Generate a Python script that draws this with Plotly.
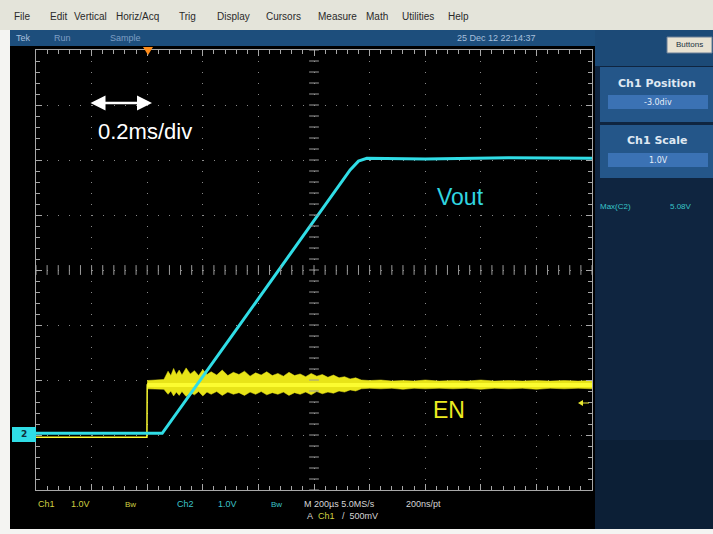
import plotly.graph_objects as go

W, H = 713, 534

# ---------------- data ----------------
# time in ms relative to the trigger point, volts (Ch2 1.0V/div, Ch1 1.0V/div)
vout_t = [-0.40, 0.054, 0.30, 0.55, 0.73, 0.76, 0.79, 1.00, 1.30, 1.60]
vout_v = [0.03, 0.03, 1.77, 3.53, 4.82, 4.98, 5.03, 5.02, 5.04, 5.03]

en_t = [-0.40, -0.001, 0.0, 1.60]
en_v = [-0.04, -0.04, 0.91, 0.91]

# noise envelope of EN (upper / lower edge of the yellow band)
en_band_t = [0.000, 0.030, 0.060, 0.075, 0.085, 0.095, 0.105, 0.115, 0.125, 0.140,
             0.155, 0.170, 0.185, 0.200, 0.215, 0.230, 0.250, 0.270, 0.290, 0.310,
             0.330, 0.350, 0.370, 0.390, 0.410, 0.430, 0.450, 0.470, 0.490, 0.510,
             0.530, 0.550, 0.570, 0.590, 0.610, 0.630, 0.650, 0.670, 0.690, 0.710,
             0.730, 0.750, 0.770, 0.800, 0.840, 0.880, 0.920, 0.960, 1.000, 1.050,
             1.100, 1.150, 1.200, 1.250, 1.300, 1.350, 1.400, 1.450, 1.500, 1.550, 1.600]
en_band_hi = [0.99, 1.00, 1.01, 1.16, 1.08, 1.21, 1.10, 1.18, 1.09, 1.22,
              1.11, 1.17, 1.08, 1.19, 1.10, 1.15, 1.09, 1.18, 1.08, 1.14,
              1.10, 1.16, 1.07, 1.13, 1.09, 1.15, 1.08, 1.12, 1.07, 1.14,
              1.08, 1.11, 1.06, 1.12, 1.07, 1.10, 1.05, 1.09, 1.04, 1.06,
              1.02, 1.04, 1.00, 0.99, 1.00, 0.98, 0.99, 0.98, 1.00, 0.98,
              0.99, 0.98, 1.00, 0.98, 0.99, 0.98, 0.99, 0.98, 0.99, 0.98, 0.99]
en_band_lo = [0.84, 0.83, 0.83, 0.74, 0.80, 0.71, 0.78, 0.72, 0.79, 0.70,
              0.77, 0.73, 0.79, 0.71, 0.78, 0.74, 0.79, 0.72, 0.78, 0.74,
              0.77, 0.72, 0.78, 0.74, 0.79, 0.73, 0.77, 0.74, 0.78, 0.72,
              0.77, 0.74, 0.78, 0.73, 0.79, 0.75, 0.78, 0.76, 0.80, 0.78,
              0.82, 0.80, 0.84, 0.85, 0.84, 0.85, 0.83, 0.85, 0.84, 0.85,
              0.84, 0.85, 0.83, 0.85, 0.84, 0.85, 0.83, 0.85, 0.84, 0.85, 0.84]

x_range = [-0.4, 1.6]   # 10 div x 0.2 ms
y_range = [-1.0, 7.0]   # 8 div x 1 V, ground at -3 div

menu_items = ["File", "Edit", "Vertical", "Horiz/Acq", "Trig", "Display",
              "Cursors", "Measure", "Math", "Utilities", "Help"]
menu_x = [22, 58, 90, 137, 187, 233, 283, 337, 377, 418, 459]

# ---------------- helpers ----------------
def px(x):
    return x / W

def py(y):
    return 1 - y / H

L, R, T, B = 36, 592, 50, 490

fig = go.Figure()

# EN noise band
fig.add_trace(go.Scatter(x=en_band_t, y=en_band_lo, mode="lines",
                         line=dict(width=0.5, color="#e8e418"), hoverinfo="skip",
                         showlegend=False))
fig.add_trace(go.Scatter(x=en_band_t, y=en_band_hi, mode="lines", fill="tonexty",
                         fillcolor="#e8e418", line=dict(width=0.5, color="#e8e418"),
                         hoverinfo="skip", showlegend=False))
# EN core
fig.add_trace(go.Scatter(x=en_t, y=en_v, mode="lines",
                         line=dict(width=1.5, color="#fcfc30"), showlegend=False))
fig.add_trace(go.Scatter(x=[en_t[2], en_t[3]], y=[en_v[2], en_v[3]], mode="lines",
                         line=dict(width=4, color="#fcfc30"), showlegend=False))
# Vout
fig.add_trace(go.Scatter(x=vout_t, y=vout_v, mode="lines",
                         line=dict(width=3, color="#30dde6"), showlegend=False))

# centre-cross minor ticks of the graticule
nx = 50
xm = [x_range[0] + i * (x_range[1] - x_range[0]) / nx for i in range(nx + 1)]
ny = 40
ym = [y_range[0] + i * (y_range[1] - y_range[0]) / ny for i in range(ny + 1)]
xc = (x_range[0] + x_range[1]) / 2
yc = (y_range[0] + y_range[1]) / 2
fig.add_trace(go.Scatter(x=xm, y=[yc] * len(xm), mode="markers",
                         marker=dict(symbol="line-ns", size=7,
                                     line=dict(width=1, color="#9a9a9a")),
                         hoverinfo="skip", showlegend=False))
fig.add_trace(go.Scatter(x=[xc] * len(ym), y=ym, mode="markers",
                         marker=dict(symbol="line-ew", size=7,
                                     line=dict(width=1, color="#9a9a9a")),
                         hoverinfo="skip", showlegend=False))

shapes = []
def rect(x0, y0, x1, y1, color, layer="below", line=None):
    shapes.append(dict(type="rect", xref="paper", yref="paper",
                       x0=px(x0), x1=px(x1), y0=py(y1), y1=py(y0),
                       fillcolor=color, line=line or dict(width=0), layer=layer))

rect(0, 0, W, H, "#f4f4f2")
rect(0, 0, W, 30, "#e4e4da")
rect(10, 30, W, 46, "#1d4e7c")
rect(10, 46, 595, 529, "#000000")
rect(595, 30, W, 529, "#0f2540")
rect(595, 30, W, 66, "#1c4a77")
rect(600, 67, W, 122, "#245689")
rect(608, 95, 708, 109, "#3b72b4")
rect(600, 125, W, 178, "#245689")
rect(608, 153, 708, 167, "#3b72b4")
rect(595, 440, W, 529, "#0c1f36")
shapes.append(dict(type="rect", xref="paper", yref="paper",
                   x0=px(667), x1=px(712), y0=py(53), y1=py(37),
                   fillcolor="#e8e2d2", line=dict(width=1, color="#6a7f96"),
                   layer="below"))
# ground marker of Ch2
rect(12, 427, 36, 442, "#30dde6", layer="above")
# trigger position marker
shapes.append(dict(type="path", xref="paper", yref="paper",
                   path="M {},{} L {},{} L {},{} Z".format(px(143), py(47), px(153), py(47), px(148), py(55)),
                   fillcolor="#ff8c1a", line=dict(width=0), layer="above"))
# trigger level marker
shapes.append(dict(type="path", xref="paper", yref="paper",
                   path="M {},{} L {},{} L {},{} Z".format(px(578), py(403), px(583), py(400), px(583), py(406)),
                   fillcolor="#e8e830", line=dict(width=0), layer="above"))
shapes.append(dict(type="line", xref="paper", yref="paper",
                   x0=px(583), x1=px(589), y0=py(403), y1=py(403),
                   line=dict(width=1, color="#e8e830"), layer="above"))

ann = []
def text(x, y, s, size=10, color="#222", xanchor="center", family="DejaVu Sans", bold=False):
    ann.append(dict(x=px(x), y=py(y), xref="paper", yref="paper",
                    text=("<b>%s</b>" % s) if bold else s, showarrow=False,
                    xanchor=xanchor, yanchor="middle",
                    font=dict(size=size, color=color, family=family)))

for m, x in zip(menu_items, menu_x):
    text(x, 17, m, size=10, color="#2a2a2a", family="Liberation Sans")

text(14, 38, "Tek", 9, "#a8c0dc", "left", "Liberation Sans")
text(52, 38, "Run", 9, "#7f9fc4", "left", "Liberation Sans")
text(108, 38, "Sample", 9, "#7f9fc4", "left", "Liberation Sans")
text(455, 38, "25 Dec 12 22:14:37", 9, "#a8c0dc", "left", "Liberation Sans")
text(689, 45, "Buttons", 8, "#203040", "center", "Liberation Sans")

text(657, 83, "Ch1 Position", 11, "#dfe8f2", "center", "DejaVu Sans", True)
text(658, 102, "-3.0div", 8, "#e6eef8", "center", "DejaVu Sans")
text(657, 140, "Ch1 Scale", 11, "#dfe8f2", "center", "DejaVu Sans", True)
text(658, 160, "1.0V", 8, "#e6eef8", "center", "DejaVu Sans")
text(598, 206, "Max(C2)", 8, "#38c4c8", "left", "Liberation Sans")
text(668, 206, "5.08V", 8, "#38c4c8", "left", "Liberation Sans")

# bottom readout
text(36, 504, "Ch1", 9, "#d0d040", "left", "Liberation Sans")
text(69, 504, "1.0V", 9, "#d0d040", "left", "Liberation Sans")
text(123, 504, "Bw", 8, "#d0d040", "left", "Liberation Sans")
text(175, 504, "Ch2", 9, "#3cc4c8", "left", "Liberation Sans")
text(216, 504, "1.0V", 9, "#3cc4c8", "left", "Liberation Sans")
text(269, 504, "Bw", 8, "#3cc4c8", "left", "Liberation Sans")
text(302, 504, "M 200µs 5.0MS/s", 9, "#d6d6d6", "left", "Liberation Sans")
text(404, 504, "200ns/pt", 9, "#d6d6d6", "left", "Liberation Sans")
text(305, 516, "A", 9, "#d6d6d6", "left", "Liberation Sans")
text(316, 516, "Ch1", 9, "#d0d040", "left", "Liberation Sans")
text(340, 516, "/  500mV", 9, "#d6d6d6", "left", "Liberation Sans")

text(24, 434, "2", 9, "#10303a", "center", "DejaVu Sans", True)

# overlay labels
text(145, 131, "0.2ms/div", 22, "#ffffff", "center", "Liberation Sans")
text(460, 197, "Vout", 23, "#30d6e0", "center", "Liberation Sans")
text(449, 410, "EN", 23, "#ecec20", "center", "Liberation Sans")

ann.append(dict(x=px(152), y=py(103), xref="paper", yref="paper",
                ax=-63, ay=0, text="", showarrow=True, arrowhead=2,
                arrowside="end+start", arrowwidth=2.5, arrowsize=1.2,
                arrowcolor="#ffffff"))

axis_common = dict(showticklabels=False, zeroline=False, showline=True,
                   mirror="ticks", linecolor="#a8a8a8", linewidth=1,
                   ticks="inside", tickcolor="#a8a8a8", ticklen=6)

fig.update_layout(
    width=W, height=H, autosize=False,
    margin=dict(l=0, r=0, t=0, b=0),
    paper_bgcolor="#f4f4f2", plot_bgcolor="#000000",
    shapes=shapes, annotations=ann,
    xaxis=dict(domain=[px(L), px(R)], range=x_range, dtick=0.2,
               gridcolor="#8a8a8a", gridwidth=1, griddash="1px,10px",
               minor=dict(ticks="inside", ticklen=4, dtick=0.04, tickcolor="#a8a8a8",
                          showgrid=False),
               **axis_common),
    yaxis=dict(domain=[py(B), py(T)], range=y_range, dtick=1,
               gridcolor="#8a8a8a", gridwidth=1, griddash="1px,10.12px",
               minor=dict(ticks="inside", ticklen=4, dtick=0.2, tickcolor="#a8a8a8",
                          showgrid=False),
               **axis_common),
    showlegend=False,
)

fig.write_html("out.html", config={"displayModeBar": False},
               post_script="document.body.style.margin='0';")
